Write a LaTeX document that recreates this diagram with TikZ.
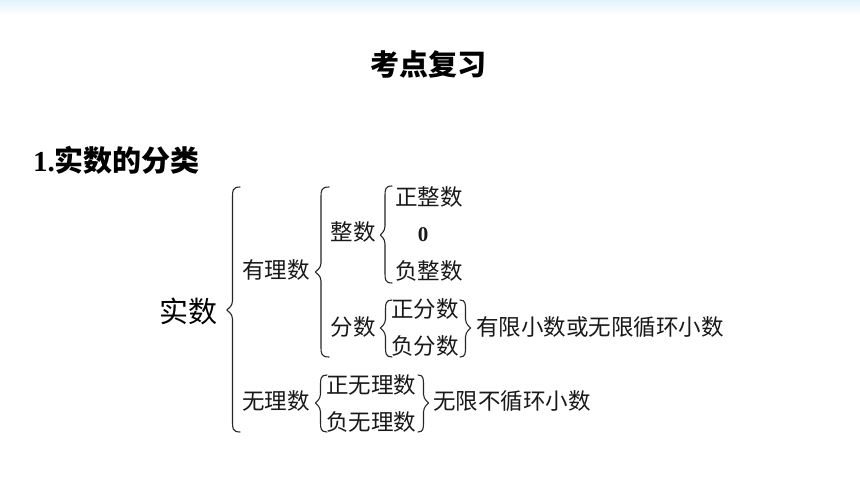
\documentclass[tikz,border=0pt]{standalone}
\usepackage{fontspec}
\setmainfont{Noto Sans CJK SC}
\newfontfamily\latinbold{Liberation Serif}[Scale=1]
\usetikzlibrary{positioning}
\definecolor{topblue}{RGB}{226,243,250}
\tikzset{
  label23/.style={inner sep=0pt,anchor=center,font=\fontsize{22.5pt}{24pt}\selectfont,text=black!90},
  label30/.style={inner sep=0pt,anchor=center,font=\fontsize{29pt}{31pt}\selectfont,text=black},
  head30/.style={inner sep=0pt,anchor=center,font=\fontsize{29pt}{31pt}\selectfont\bfseries,text=black},
  bracestroke/.style={draw=black!85,line width=1.1pt,line cap=round}
}
% #1 end x, #2 stem x, #3 tip x, #4 top y, #5 mid y, #6 bottom y
\newcommand{\curlybrace}[6]{%
  \draw[bracestroke] (#1,#4) .. controls (#2,#4) and (#2,#4+4) .. (#2,#4+10)
    -- (#2,#5-9) .. controls (#2,#5-3) and (#3,#5-1) .. (#3,#5)
    .. controls (#3,#5+1) and (#2,#5+3) .. (#2,#5+9)
    -- (#2,#6-10) .. controls (#2,#6-4) and (#2,#6) .. (#1,#6);}
\begin{document}
\begin{tikzpicture}[x=1pt,y=-1pt]
\useasboundingbox (0,0) rectangle (860,484);
\fill[white] (0,0) rectangle (860,484);
\shade[top color=topblue,bottom color=white] (0,0) rectangle (860,15);
\node[head30] (title) at (428,64) {考点复习};
\node[head30,anchor=west] (sec) at (33,160) {{\latinbold 1.}实数的分类};
\node[label30] (real) at (188,311) {实数};
\node[label23] (rat) at (276,270) {有理数};
\node[label23] (int) at (353,232) {整数};
\node[label23] (posint) at (429,197) {正整数};
\node[label23,font=\fontsize{21pt}{23pt}\selectfont\latinbold\bfseries] (zero) at (423,235) {0};
\node[label23] (negint) at (429,271) {负整数};
\node[label23] (frac) at (353,327) {分数};
\node[label23] (posfrac) at (425,309) {正分数};
\node[label23] (negfrac) at (425,346) {负分数};
\node[label23,anchor=west] (fracnote) at (476,327) {有限小数或无限循环小数};
\node[label23] (irr) at (276,401) {无理数};
\node[label23] (posirr) at (371,385) {正无理数};
\node[label23] (negirr) at (371,422) {负无理数};
\node[label23,anchor=west] (irrnote) at (433,401) {无限不循环小数};
\curlybrace{240}{232.5}{227}{187}{310}{432}
\curlybrace{329}{321}{315.5}{187}{272}{357}
\curlybrace{392}{385}{380.5}{186}{235}{283}
\curlybrace{392}{385.5}{380.5}{300}{328}{357}
\curlybrace{460}{465.5}{470.5}{300}{328}{357}
\curlybrace{327}{320.5}{315.5}{375}{403}{432}
\curlybrace{418}{423.5}{428.5}{375}{403}{432}
\end{tikzpicture}
\end{document}
